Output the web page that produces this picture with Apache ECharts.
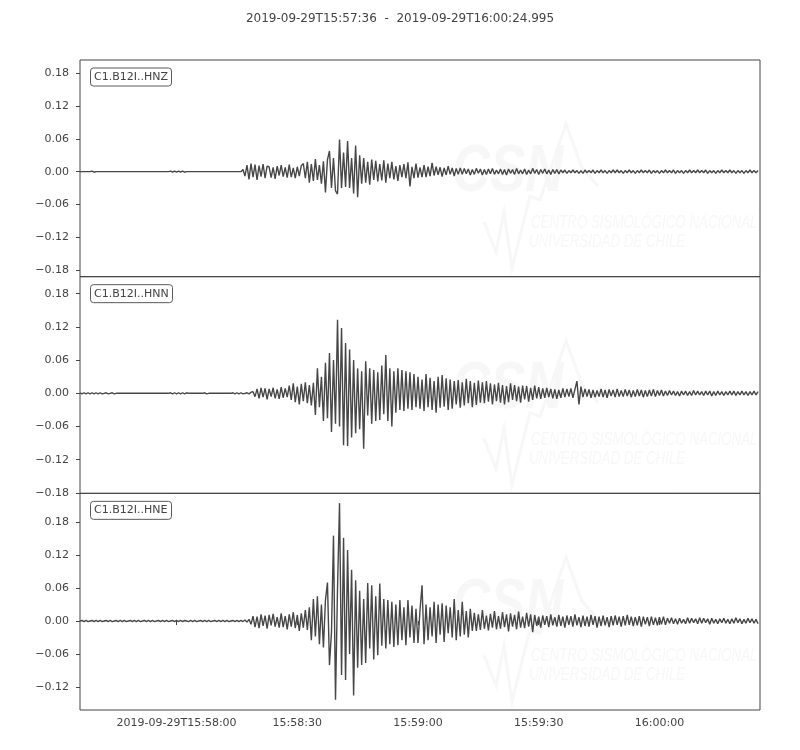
<!DOCTYPE html>
<html><head><meta charset="utf-8">
<script src="https://cdn.jsdelivr.net/npm/echarts@6/dist/echarts.min.js"></script>
<style>html,body{margin:0;padding:0;background:#fff}#c{width:800px;height:750px}</style>
</head><body><div id="c"></div>
<script>
// ---- data (amplitudes in units of 0.001) ----
const titleText = '2019-09-29T15:57:36  -  2019-09-29T16:00:24.995';
const channels = ['C1.B12I..HNZ', 'C1.B12I..HNN', 'C1.B12I..HNE'];
const sampleStepSec = 0.5;          // seconds between samples, from 15:57:36
const durationSec = 168.995;
const xTickSec = [24, 54, 84, 114, 144];
const xTickLabels = ['2019-09-29T15:58:00', '15:58:30', '15:59:00', '15:59:30', '16:00:00'];
const yTicksHNZ = [-180, -120, -60, 0, 60, 120, 180];
const yTicksHNN = [-180, -120, -60, 0, 60, 120, 180];
const yTicksHNE = [-120, -60, 0, 60, 120, 180];
const yMin = [-192.4, -180.7, -161.5];
const yMax = [204.6, 210.7, 231.8];

const hnz = [
0,0,0,0,0,0,1,-1,0,0,
0,0,0,0,0,0,0,0,0,0,
0,0,0,0,0,0,0,0,0,0,
0,0,0,0,0,0,0,0,0,0,
0,0,0,0,0,1,-1,1,-1,1,
-1,1,-1,0,0,0,0,0,0,0,
0,0,0,0,0,0,0,0,0,0,
0,0,0,0,0,0,0,0,0,0,
0,
4,-8,12,-14,15,-10,13,-15,11,-9,14,-12,10,
9,-11,8,-13,10,-7,12,-9,8,-11,13,-10,7,-12,9,-8,11,
15,-12,18,-20,14,-17,23,-15,12,-22,
19,-38,22,38,-30,25,-35,
-41,59,-30,35,-28,56,-30,25,-40,48,-47,30,
-22,25,-20,18,-24,22,-15,20,-18,14,
-16,21,-20,15,-12,18,-14,10,-17,12,-10,14,-12,17,-27,9,-12,15,-11,8,
-10,12,-10,9,-8,16,-7,9,-6,8,-9,7,-6,10,-5,7,-8,6,-5,7,
-5,6,-4,5,-6,4,-5,6,-3,5,
-6,4,-5,5,-4,6,-5,3,-4,5,
-5,4,-6,5,-3,4,-5,6,-4,3,
-4,5,-5,3,-4,6,-3,4,-5,4,
-3,5,-4,3,-5,4,-3,4,-4,
3,-2,3,-3,2,-2,3,-2,2,-3,
2,-3,3,-2,2,-2,3,-3,2,-2,
3,-2,2,-3,2,-2,3,-2,3,-2,
2,-3,2,-2,3,-2,2,-3,2,-2,
3,-2,2,-2,3,-3,2,-2,2,-3,
2,-2,3,-2,2,-2,3,-3,2,-2,
2,-3,2,-2,3,-2,2,-2,3,-2,
2,-2,3,-3,2,-2,2,-3,2,-2,
3,-2,2,-2,3,-2,2,-3,2,-2,
2,-3,2,-2,3,-2,2,-2,2
];

const hnn = [
1,-1,1,-1,1,-1,1,-1,1,-1,
1,-1,0,1,-1,0,1,-1,0,0,
0,0,0,0,0,0,0,0,0,0,
0,0,0,0,0,0,0,0,0,0,
0,0,0,0,0,1,-1,1,-1,1,
-1,1,-1,1,0,0,0,0,0,0,
0,0,1,-1,0,0,0,0,0,0,
0,0,0,0,0,0,1,-1,1,-1,
1,-1,0,1,-1,2,
3,-6,8,-9,10,-7,9,-11,8,-6,10,-9,7,-10,11,-8,9,-7,
14,-12,18,-16,12,-20,17,-14,20,-18,15,-22,19,
-39,45,-25,30,-50,55,-45,73,-70,60,-55,
133,-60,118,-94,91,-95,79,-80,60,-72,45,-65,40,-100,
58,-40,45,-55,42,-50,38,-48,50,-38,69,-50,45,-60,40,-35,45,-30,42,-32,40,-28,38,-30,35,-25,
30,-28,25,-32,35,-25,28,-30,22,-35,30,-26,33,-24,27,-30,25,-28,22,-20,24,-26,20,-22,26,-18,22,-25,19,-21,23,-17,
20,-18,22,-15,18,-20,16,-14,19,-17,15,-20,13,-16,18,-12,15,-14,12,-17,14,-11,13,-15,10,-12,14,-9,11,-10,
9,-8,10,-7,8,-9,7,-10,6,-8,9,-7,8,-6,9,-8,7,
22,-20,12,
-7,8,-6,7,-8,6,-7,5,-6,8,
-7,6,-8,7,-5,6,-7,8,-6,5,
-6,7,-5,6,-7,5,-6,7,-5,6,
-7,5,-6,6,-5,7,-6,5,-4,6,
-5,4,
-4,5,-3,4,-4,3,-5,4,-3,4,
-4,3,-4,5,-3,4,-3,3,-4,4,
-3,4,-5,3,-4,4,-3,3,-4,3,
-3,4,-3,4,-4,3,-3,4,-3,3,
-4,3,-3,4,-3,3
];

const hne = [
0,1,-1,1,-1,0,1,-1,1,-1,
1,-1,0,1,-1,1,-1,0,1,-1,
1,-1,1,-1,0,1,-1,1,-1,1,
-1,0,1,-1,1,-1,1,-1,0,1,
-1,1,-1,1,-1,0,1,-1,1,-1,
1,-1,1,0,-1,1,-1,1,-1,0,
1,-1,1,-1,1,-1,0,1,-1,1,
-1,1,-1,1,-1,0,1,-1,1,-1,
1,-1,2,-2,
3,-6,9,-11,8,-13,12,-9,10,-14,11,-8,13,-10,7,-12,14,-11,9,-15,12,-10,16,-13,11,-18,14,-12,20,-16,
25,-35,40,-28,45,-42,30,-48,38,
70,-80,-20,155,-143,60,214,-98,151,-107,129,-60,93,-135,74,-85,55,-80,40,-76,
69,-50,65,-70,45,-62,68,-45,40,-50,38,-42,35,-47,30,-44,38,-35,25,-44,38,-30,28,-40,22,
-40,20,65,-42,30,-35,25,-28,35,-40,30,-25,32,-38,28,-22,25,-30,40,-35,20,-28,35,-25,18,-30,22,-18,
15,-18,12,-16,20,-14,10,-17,13,-12,18,-15,9,-14,16,-11,12,-19,14,-10,11,-15,17,-12,8,-13,15,-10,12,-20,
11,-9,8,-12,10,-7,9,-11,12,-8,
7,-10,11,-9,8,-12,10,-7,9,-10,
12,-8,7,-11,10,-9,8,-10,11,-7,
9,-12,8,-9,10,-8,7,-11,9,-8,
10,-7,8,-10,9,-8,11,-7,8,-9,
7,-8,9,-10,8,-6,7,-9,8,-7,
6,-8,7,-6,8,-7,
5,-4,6,-5,4,-6,5,-4,3,-5,
6,-4,5,-3,4,-5,6,-4,5,-3,
4,-6,5,-4,3,-5,4,-3,5,-4,
3,-5,4,-4,6,-3,4,-5,3,-4,
5,-3,4,-4,3,-5
];

// ---- chart ----
const traces = [hnz, hnn, hne];
const yTicks = [yTicksHNZ, yTicksHNN, yTicksHNE];
const FONT = 'DejaVu Sans';
const TXT = '#444444';
const panelTop = [60, 276.67, 493.33];
const panelH = 216.67;

function yFmt(v) {
  const s = (Math.abs(v) / 1000).toFixed(2);
  return v < 0 ? '\u2212' + s : s;
}

const grids = [], xAxes = [], yAxes = [], series = [], titles = [];
titles.push({ text: titleText, left: 'center', top: 13, padding: 0,
  textStyle: { fontFamily: FONT, fontSize: 12, fontWeight: 'normal', color: TXT } });

traces.forEach((tr, p) => {
  grids.push({ left: 80, right: 40, top: panelTop[p], height: panelH, show: true,
    borderColor: '#444', borderWidth: 1, backgroundColor: 'transparent', containLabel: false });
  const last = p === traces.length - 1;
  xAxes.push({ type: 'value', gridIndex: p, min: 0, max: durationSec,
    axisLine: { show: false }, splitLine: { show: false },
    axisTick: { show: last, customValues: xTickSec, length: 4, lineStyle: { color: '#444' } },
    axisLabel: { show: last, customValues: xTickSec, margin: 8, fontFamily: FONT, fontSize: 11, color: TXT,
      formatter: v => { const k = xTickSec.indexOf(Math.round(v)); return k >= 0 ? xTickLabels[k] : ''; } } });
  yAxes.push({ type: 'value', gridIndex: p, min: yMin[p], max: yMax[p],
    axisLine: { show: false }, splitLine: { show: false },
    axisTick: { show: true, customValues: yTicks[p], length: 4, lineStyle: { color: '#444' } },
    axisLabel: { customValues: yTicks[p], margin: 11, fontFamily: FONT, fontSize: 11, color: TXT, formatter: yFmt } });
  series.push({ type: 'line', xAxisIndex: p, yAxisIndex: p, symbol: 'none', showSymbol: false,
    sampling: null, animation: false, z: 3,
    lineStyle: { width: 1.4, color: '#474747' },
    data: tr.map((v, i) => [i * sampleStepSec, v]) });
  titles.push({ text: channels[p], left: 90, top: panelTop[p] + 7.5,
    padding: [3, 4, 3, 4], borderColor: '#5a5a5a', borderWidth: 1, borderRadius: 3,
    backgroundColor: '#fff',
    textStyle: { fontFamily: FONT, fontSize: 11, fontWeight: 'normal', color: TXT, lineHeight: 13 } });
});

// faint CSN watermark in each panel
const wm = [];
const WM = '#f7f7f7';
[0, 1, 2].forEach(p => {
  const dy = p * panelH;
  wm.push({ type: 'text', silent: true, z: 0, x: 452, y: 140 + dy, scaleX: 0.8,
    style: { text: 'CSN', fill: WM, font: 'italic bold 66px "Liberation Sans", sans-serif' } });
  wm.push({ type: 'polyline', silent: true, z: 0,
    shape: { points: [[484, 222 + dy], [496, 252 + dy], [504, 212 + dy], [512, 268 + dy], [530, 196 + dy], [540, 200 + dy], [566, 124 + dy], [582, 168 + dy], [598, 186 + dy]] },
    style: { stroke: WM, lineWidth: 3, fill: null } });
  wm.push({ type: 'text', silent: true, z: 0, x: 531, y: 214 + dy, scaleX: 0.74,
    style: { text: 'CENTRO SISMOLÓGICO NACIONAL', fill: WM, font: 'italic 18px "Liberation Sans", sans-serif' } });
  wm.push({ type: 'text', silent: true, z: 0, x: 529, y: 233 + dy, scaleX: 0.74,
    style: { text: 'UNIVERSIDAD DE CHILE', fill: WM, font: 'italic 18px "Liberation Sans", sans-serif' } });
});

const chart = echarts.init(document.getElementById('c'), null, { renderer: 'canvas' });
chart.setOption({
  backgroundColor: '#fff',
  animation: false,
  title: titles,
  grid: grids,
  xAxis: xAxes,
  yAxis: yAxes,
  series: series,
  graphic: wm
});
</script>
</body></html>
